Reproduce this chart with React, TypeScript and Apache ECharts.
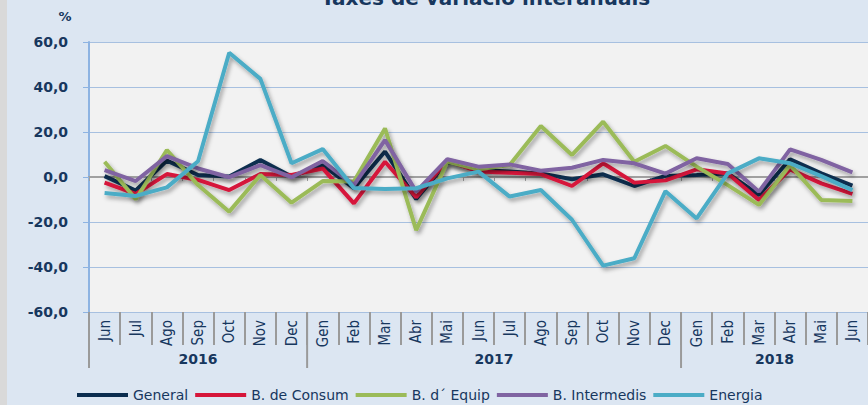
import React, { useEffect, useRef } from "react";
import * as echarts from "echarts";

const titleText = "Taxes de variació interanuals";
const unitLabel = "%";
const months = ["Jun", "Jul", "Ago", "Sep", "Oct", "Nov", "Dec", "Gen", "Feb", "Mar", "Abr", "Mai", "Jun", "Jul", "Ago", "Sep", "Oct", "Nov", "Dec", "Gen", "Feb", "Mar", "Abr", "Mai", "Jun"];
const years = ["2016", "2017", "2018"];
const monthsPerYear = [7, 12, 6];
const yMin = -60;
const yMax = 60;
const yStep = 20;

const seriesNames = ["General", "B. de Consum", "B. d´ Equip", "B. Intermedis", "Energia"];
const general = [0.4, -6, 7.3, 0.9, 0.2, 7.6, 0.2, 5.3, -5, 11.3, -9.8, 6.8, 3.1, 2.4, 1.6, -1, 1.2, -4, 0.5, 0.9, 1.6, -8, 7.9, 1.6, -3.8];
const consum = [-2.5, -7.5, 1.3, -1.3, -5.8, 1.3, 0.9, 3.8, -11.7, 6.8, -9, 7.3, 2.4, 1.9, 1.3, -4, 6.1, -2.5, -1.5, 3.4, 1.6, -10.2, 3.4, -2.8, -7.5];
const equip = [6.8, -9.9, 12, -3.6, -15.4, 0.9, -11.4, -1.8, -2, 21.6, -23.6, 6.8, 3.4, 5.3, 22.7, 9.8, 24.6, 6.8, 13.8, 4.6, -3.6, -12.4, 5.3, -10.2, -10.7];
const intermedis = [3.1, -1.8, 9.3, 3.8, -0.1, 5.3, -0.1, 7.1, -3.6, 16.4, -6.5, 7.9, 4.6, 5.6, 2.8, 4.1, 7.6, 6.1, 1.5, 8.3, 5.8, -6.5, 12.3, 7.6, 2.1];
const energia = [-7.1, -8.4, -4.6, 7, 55.2, 43.6, 6.1, 12.4, -4.9, -5.3, -5, -0.6, 2.4, -8.7, -5.8, -19, -39.4, -36.1, -6.3, -18.4, 1.6, 8.3, 6.1, 0.4, -5.8];
const seriesValues = [general, consum, equip, intermedis, energia];

const colors = ["#0b2d4f", "#d6163a", "#9bbb59", "#8064a2", "#4bacc6"];
const legendTextWidths = [72, 122, 98, 121, 62];
const textColor = "#17375e";

export default function App() {
  const ref = useRef<HTMLDivElement>(null);

  useEffect(() => {
    if (!ref.current) return;
    const chart = echarts.init(ref.current, null, { renderer: "svg" });
    const rich: Record<string, any> = {};
    legendTextWidths.forEach((w, i) => {
      rich["w" + i] = { width: w, fontSize: 14, fontFamily: "DejaVu Sans", color: textColor };
    });

    chart.setOption({
      animation: false,
      backgroundColor: "#dce6f2",
      title: {
        text: titleText,
        left: 321,
        top: -12,
        padding: 0,
        textStyle: { fontSize: 20, fontWeight: "bold", fontFamily: "DejaVu Sans", color: textColor },
      },
      legend: {
        left: 77,
        top: 388,
        padding: 0,
        width: 1200,
        icon: "rect",
        itemWidth: 51,
        itemHeight: 4,
        itemGap: 7,
        data: seriesNames,
        formatter: (name: string) => `{w${seriesNames.indexOf(name)}|${name}}`,
        textStyle: { fontSize: 14, fontFamily: "DejaVu Sans", color: textColor, rich },
      },
      grid: {
        left: 89,
        right: -5,
        top: 42,
        bottom: 93,
        show: true,
        backgroundColor: "#f2f2f2",
        borderWidth: 0,
      },
      xAxis: [
        {
          type: "category",
          data: months,
          boundaryGap: true,
          position: "bottom",
          axisLine: { show: true, onZero: false, lineStyle: { color: "#a7c0e0", width: 1 } },
          axisTick: { show: true, interval: 0, length: 33, lineStyle: { color: "#9a9a9a", width: 2 } },
          axisLabel: {
            interval: 0,
            rotate: 90,
            margin: 8,
            fontSize: 15,
            fontFamily: "Liberation Sans Narrow, DejaVu Sans Condensed, sans-serif",
            color: textColor,
          },
          splitLine: { show: false },
        },
        {
          type: "category",
          data: months,
          boundaryGap: true,
          position: "bottom",
          axisLine: { show: true, onZero: true, lineStyle: { color: "#a0a0a0", width: 2 } },
          axisTick: { show: true, interval: 0, length: 4, lineStyle: { color: "#a0a0a0", width: 1 } },
          axisLabel: { show: false },
          splitLine: { show: false },
        },
      ],
      yAxis: {
        type: "value",
        min: yMin,
        max: yMax,
        interval: yStep,
        axisLine: { show: true, lineStyle: { color: "#8db3e2", width: 2 } },
        axisTick: { show: true, length: 6, lineStyle: { color: "#8db3e2" } },
        axisLabel: {
          margin: 21,
          fontSize: 14,
          fontWeight: "bold",
          fontFamily: "DejaVu Sans",
          color: textColor,
          formatter: (v: number) => v.toFixed(1).replace(".", ","),
        },
        splitLine: { show: true, lineStyle: { color: "#a7c0e0", width: 1 } },
      },
      series: seriesNames.map((name, i) => ({
        name,
        type: "line",
        xAxisIndex: 0,
        data: seriesValues[i],
        symbol: "none",
        color: colors[i],
        lineStyle: {
          color: colors[i],
          width: 4,
          shadowColor: "rgba(0,0,0,0.35)",
          shadowBlur: 4,
          shadowOffsetX: 2,
          shadowOffsetY: 3,
        },
        z: 2 + i,
      })),
    });

    const cx = (i: number) => chart.convertToPixel({ xAxisIndex: 0 }, i) as number;
    const band = cx(1) - cx(0);
    const yBottom = chart.convertToPixel({ yAxisIndex: 0 }, yMin) as number;
    const graphics: any[] = [
      { type: "rect", shape: { x: 0, y: 0, width: 7, height: 405 }, style: { fill: "#d9d9d9" }, silent: true },
      {
        type: "text",
        x: 65,
        y: 16,
        style: { text: unitLabel, fontSize: 13, fontWeight: "bold", fontFamily: "DejaVu Sans", fill: textColor, align: "center", verticalAlign: "middle" },
      },
    ];
    let start = 0;
    years.forEach((yr, k) => {
      const end = start + monthsPerYear[k] - 1;
      const left = cx(start) - band / 2;
      graphics.push({
        type: "line",
        shape: { x1: left, y1: yBottom, x2: left, y2: yBottom + 56 },
        style: { stroke: "#9a9a9a", lineWidth: 2 },
      });
      graphics.push({
        type: "text",
        x: (cx(start) + cx(end)) / 2,
        y: yBottom + 47,
        style: { text: yr, fontSize: 14, fontWeight: "bold", fontFamily: "DejaVu Sans", fill: textColor, align: "center", verticalAlign: "middle" },
      });
      start = end + 1;
    });
    chart.setOption({ graphic: graphics });

    return () => chart.dispose();
  }, []);

  return <div ref={ref} style={{ position: "absolute", left: 0, top: 0, width: 868, height: 405 }} />;
}
